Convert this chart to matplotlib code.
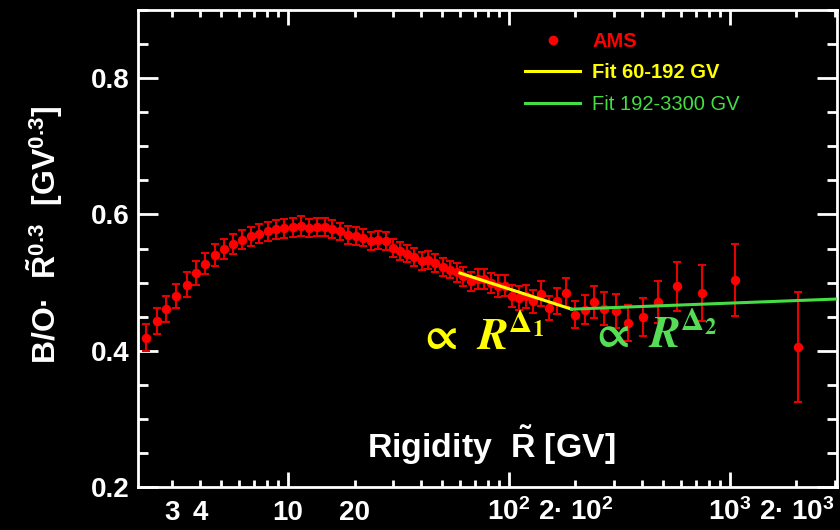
import matplotlib
matplotlib.use("Agg")
import matplotlib.pyplot as plt
from matplotlib.ticker import MultipleLocator

plt.rcParams['font.family'] = ['Liberation Sans', 'DejaVu Sans']
plt.rcParams['font.weight'] = 'bold'
plt.rcParams['axes.labelweight'] = 'bold'
plt.rcParams['mathtext.fontset'] = 'custom'
plt.rcParams['mathtext.rm'] = 'Liberation Sans:bold'
plt.rcParams['mathtext.bf'] = 'Liberation Sans:bold'
plt.rcParams['mathtext.it'] = 'Liberation Sans:bold:italic'

# AMS B/O x R^0.3
rigidity = [2.28, 2.55, 2.82, 3.13, 3.48, 3.84, 4.23, 4.66, 5.13, 5.65,
            6.21, 6.80, 7.42, 8.09, 8.83, 9.62, 10.5, 11.5, 12.5, 13.6,
            14.7, 15.9, 17.2, 18.7, 20.3, 21.9, 23.7, 25.6, 27.7, 29.8,
            32.1, 34.7, 37.2, 40.3, 43.1, 46.4, 50.1, 54.1, 58.0, 62.1,
            67.1, 72.2, 77.3, 82.9, 88.9, 96.0, 102.8, 111, 119.4, 128,
            139, 152, 165.5, 181, 199.6, 220, 243, 270, 305, 347,
            403, 472, 578, 747, 1050, 2023]
ratio = [0.419, 0.443, 0.461, 0.480, 0.497, 0.514, 0.528, 0.540, 0.549, 0.557,
         0.563, 0.568, 0.572, 0.5755, 0.578, 0.580, 0.581, 0.583, 0.580, 0.582,
         0.582, 0.579, 0.575, 0.570, 0.5685, 0.566, 0.561, 0.563, 0.561, 0.551,
         0.546, 0.5426, 0.5378, 0.5313, 0.5328, 0.529, 0.5231, 0.5191, 0.5151, 0.5093,
         0.5019, 0.5054, 0.5054, 0.4996, 0.4946, 0.4956, 0.480, 0.4775, 0.480, 0.4725,
         0.4838, 0.4628, 0.4735, 0.485, 0.453, 0.4603, 0.4716, 0.4618, 0.4578, 0.4407,
         0.4501, 0.471, 0.4946, 0.485, 0.5034, 0.4054]
ratio_err = [0.020, 0.019, 0.019, 0.018, 0.018, 0.017, 0.016, 0.016, 0.015, 0.015,
             0.014, 0.014, 0.014, 0.014, 0.014, 0.014, 0.014, 0.014, 0.013, 0.013,
             0.013, 0.013, 0.013, 0.013, 0.013, 0.013, 0.013, 0.013, 0.013, 0.013,
             0.013, 0.013, 0.013, 0.013, 0.013, 0.013, 0.013, 0.013, 0.014, 0.014,
             0.014, 0.015, 0.015, 0.015, 0.016, 0.016, 0.016, 0.017, 0.017, 0.017,
             0.018, 0.018, 0.019, 0.021, 0.020, 0.021, 0.023, 0.024, 0.025, 0.026,
             0.028, 0.031, 0.036, 0.041, 0.053, 0.081]

# fitted power laws (end points)
fit1_r = [60, 192]
fit1_y = [0.514, 0.461]
fit2_r = [192, 3300]
fit2_y = [0.461, 0.4763]

xtick_vals = [3, 4, 10, 20, 100, 200, 1000, 2000]
xtick_text = ['3', '4', '10', '20', r'10$^{2}$', r'2· 10$^{2}$', r'10$^{3}$', r'2· 10$^{3}$']

fig = plt.figure(figsize=(8.4, 5.3), dpi=100, facecolor='black')
ax = fig.add_axes([0.1643, 0.0811, 0.8321, 0.9])
ax.set_facecolor('black')

ax.errorbar(rigidity, ratio, yerr=ratio_err, fmt='o', color='#ff0000',
            ecolor='#e60000', ms=5.8, elinewidth=1.5, capsize=3.2, capthick=1.5,
            zorder=2)
ax.plot([], [], 'o', color='#ff0000', ms=6, label='AMS')
ax.plot(fit1_r, fit1_y, color='#ffff00', lw=2.2, zorder=3, label='Fit 60-192 GV')
ax.plot(fit2_r, fit2_y, color='#44dd44', lw=2.2, zorder=3, label='Fit 192-3300 GV')

ax.set_xscale('log')
major = [10, 100, 1000]
minor = [d * 10 ** k for k in range(4) for d in range(2, 10)]
labels = dict(zip(xtick_vals, xtick_text))
ax.set_xticks(major, [labels[v] for v in major])
ax.set_xticks(minor, [labels.get(v, '') for v in minor], minor=True)
ax.yaxis.set_major_locator(MultipleLocator(0.2))
ax.yaxis.set_minor_locator(MultipleLocator(0.05))
ax.set_xlim(2.096, 3050)
ax.set_ylim(0.2, 0.9)

ax.tick_params(axis='both', which='both', direction='in', colors='white',
               top=True, right=True, width=2, labelsize=20)
ax.tick_params(axis='x', which='major', length=11, pad=24)
ax.tick_params(axis='x', which='minor', length=5, pad=24)
ax.tick_params(axis='y', which='major', length=14.5, pad=6)
ax.tick_params(axis='y', which='minor', length=7.5)
for t in ax.xaxis.get_major_ticks() + ax.xaxis.get_minor_ticks():
    t.label1.set_va('baseline')
for s in ax.spines.values():
    s.set_color('white')
    s.set_linewidth(2)

ax.set_xlabel(r'Rigidity  $\tilde{\mathrm{R}}$ [GV]', fontsize=24.4, color='white')
ax.xaxis.set_label_coords(0.505, 0.061)
ax.xaxis.label.set_va('baseline')
ax.set_ylabel(r'B/O·  $\tilde{\mathrm{R}}^{0.3}$  [GV$^{0.3}$]', fontsize=23, color='white')
ax.yaxis.set_label_coords(-0.104, 0.528)

leg = ax.legend(loc='upper left', bbox_to_anchor=(0.5536, 0.954), frameon=False,
                prop={'weight': 'bold', 'size': 14.5}, handlelength=2.75,
                handletextpad=0.6, labelspacing=0.62, borderpad=0,
                borderaxespad=0, labelcolor='linecolor', numpoints=1)
leg.get_texts()[2].set_fontweight('normal')

ax.text(0.398, 0.287, r'$\propto\ \mathbfit{R}^{\Delta_1}$', transform=ax.transAxes,
        color='#ffff00', fontsize=33, math_fontfamily='stix', va='baseline')
ax.text(0.644, 0.291, r'$\propto\ \mathbfit{R}^{\Delta_2}$', transform=ax.transAxes,
        color='#55dd55', fontsize=33, math_fontfamily='stix', va='baseline')

fig.savefig('out.png', dpi=100, facecolor='black')
